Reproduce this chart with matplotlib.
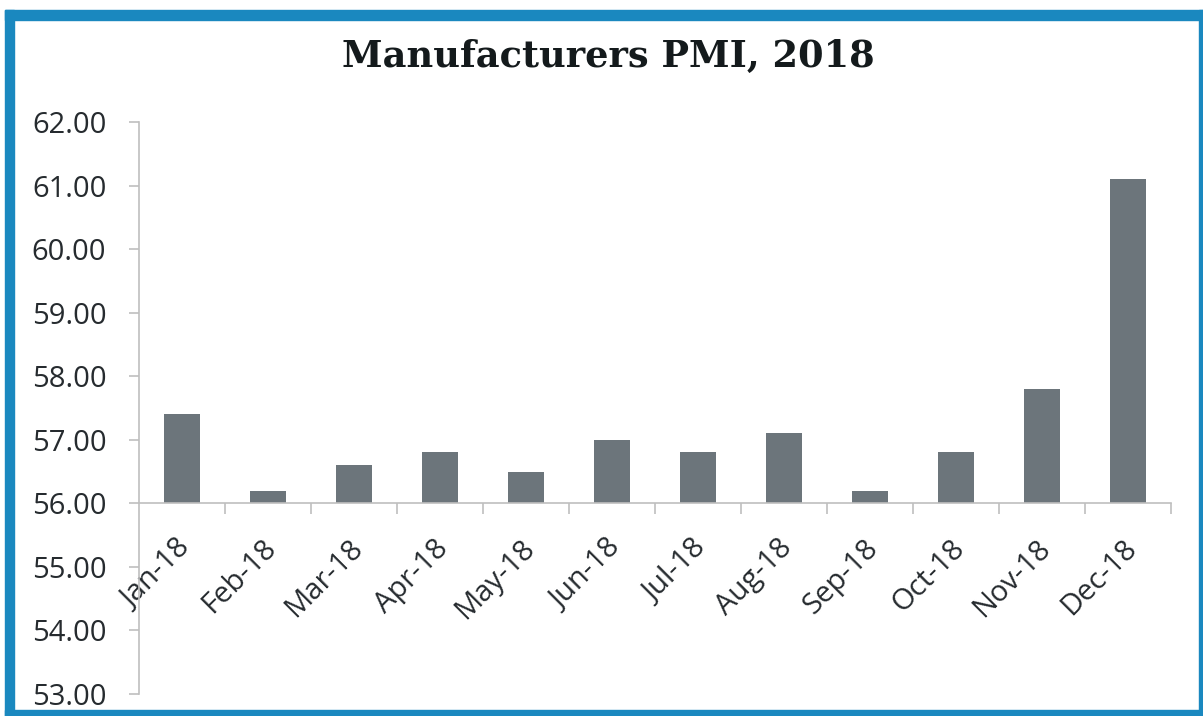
import matplotlib.pyplot as plt
from matplotlib.patches import Rectangle
from matplotlib.transforms import ScaledTranslation
import numpy as np

months = ["Jan-18", "Feb-18", "Mar-18", "Apr-18", "May-18", "Jun-18",
          "Jul-18", "Aug-18", "Sep-18", "Oct-18", "Nov-18", "Dec-18"]
pmi = [57.4, 56.2, 56.6, 56.8, 56.5, 57.0, 56.8, 57.1, 56.2, 56.8, 57.8, 61.1]
base = 56.0
yticks = [53, 54, 55, 56, 57, 58, 59, 60, 61, 62]

plt.rcParams['font.family'] = ['Open Sans', 'DejaVu Sans']

fig = plt.figure(figsize=(12.03, 7.16), dpi=100)
ax = fig.add_axes([139 / 1203, 1 - 694 / 716, (1171 - 139) / 1203, (694 - 122) / 716])

x = np.arange(len(months))
heights = [v - base for v in pmi]
ax.bar(x, heights, bottom=base, width=0.41, color='#6c757b')

ax.set_xlim(-0.5, len(months) - 0.5)
ax.set_ylim(53, 62)
ax.set_yticks(yticks)
ax.set_yticklabels([f"{t:.2f}" for t in yticks])

# category axis sits on the 56 line, ticks between categories
ax.spines['bottom'].set_position(('data', base))
for s in ['top', 'right']:
    ax.spines[s].set_visible(False)
for s in ['left', 'bottom']:
    ax.spines[s].set_color('#bfbfbf')
    ax.spines[s].set_linewidth(1.2)

ax.set_xticks(x)
ax.set_xticklabels(months, rotation=45, ha='right', va='top', rotation_mode='anchor')
ax.set_xticks(np.arange(0.5, len(months), 1.0), minor=True)
ax.tick_params(axis='x', which='major', length=0, pad=22, labelsize=21, labelcolor='#262b2f')
ax.tick_params(axis='x', which='minor', length=8, width=1.2, color='#bfbfbf', direction='out')
ax.tick_params(axis='y', length=7.5, width=1.2, color='#bfbfbf', pad=16,
               labelsize=21, labelcolor='#262b2f')

shift = ScaledTranslation(-6 / 100, 0, fig.dpi_scale_trans)
for lbl in ax.get_xticklabels():
    lbl.set_transform(lbl.get_transform() + shift)

fig.text(0.506, 1 - 57 / 716, "Manufacturers PMI, 2018", ha='center', va='center',
         fontsize=26.5, fontweight='bold', family='DejaVu Serif', color='#141a1c')

# blue frame round the figure
blue = '#1a88bf'
fig.patches.append(Rectangle((5 / 1203, 1 - 20 / 716), 1 - 5 / 1203, 10 / 716,
                             transform=fig.transFigure, color=blue))
fig.patches.append(Rectangle((5 / 1203, 0), 9 / 1203, 1 - 10 / 716,
                             transform=fig.transFigure, color=blue))
fig.patches.append(Rectangle((1199 / 1203, 0), 4 / 1203, 1 - 10 / 716,
                             transform=fig.transFigure, color=blue))
fig.patches.append(Rectangle((5 / 1203, 0), 1 - 5 / 1203, 6 / 716,
                             transform=fig.transFigure, color=blue))

fig.savefig("out.png", dpi=100)
